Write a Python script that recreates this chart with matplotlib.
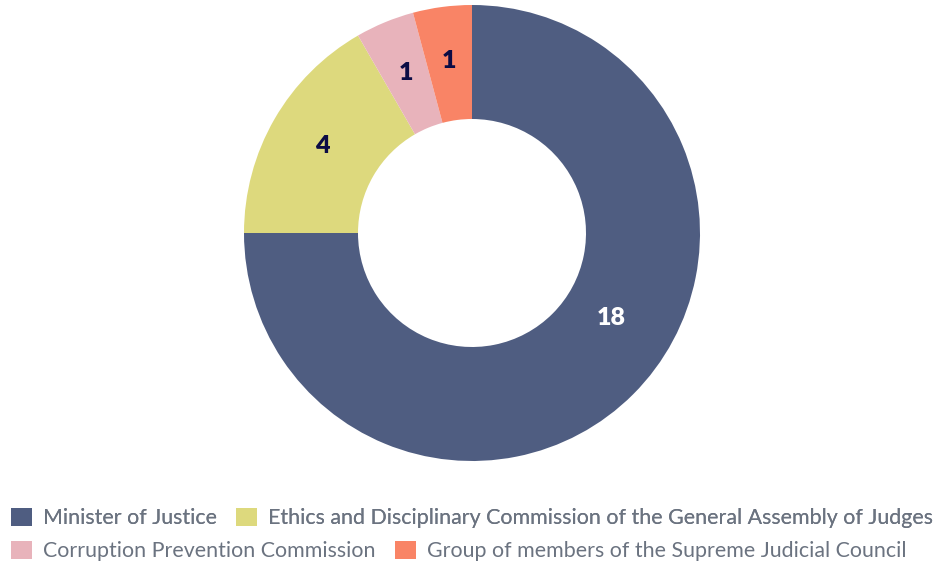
import matplotlib
matplotlib.use("Agg")
import matplotlib.pyplot as plt
from matplotlib.patches import Patch

categories = ["Minister of Justice",
              "Ethics and Disciplinary Commission of the General Assembly of Judges",
              "Corruption Prevention Commission",
              "Group of members of the Supreme Judicial Council"]
values = [18, 4, 1, 1]
colors = ["#4F5D81", "#DDD97D", "#E8B3BB", "#F98466"]
label_colors = ["white", "#0B0C45", "#0B0C45", "#0B0C45"]

plt.rcParams['font.family'] = ['Lato', 'DejaVu Sans']

fig = plt.figure(figsize=(9.4, 5.63), dpi=100)
ax = fig.add_axes([244/940, 102/563, 456/940, 456/563])
wedges, texts, autotexts = ax.pie(values, colors=colors, startangle=90, counterclock=False,
                                  radius=1, wedgeprops=dict(width=0.5, linewidth=0),
                                  autopct=lambda p: "", pctdistance=0.76)
for t, v, c in zip(autotexts, values, label_colors):
    t.set_text(str(v))
    t.set_color(c)
    t.set_fontsize(18)
    t.set_fontweight('heavy')
autotexts[0].set_position((0.61, -0.373))
ax.set_xlim(-1, 1)
ax.set_ylim(-1, 1)
ax.axis('off')

handles = [Patch(facecolor=c, edgecolor='none') for c in colors]
common = dict(frameon=False, fontsize=15.4, labelcolor="#6B7380", handlelength=0.98,
              handleheight=0.98, handletextpad=0.52, columnspacing=0.9, borderpad=0,
              borderaxespad=0, loc='center left')
leg1 = fig.legend(handles[:2], categories[:2], ncol=2,
                  bbox_to_anchor=(11/940, 1 - 518/563), **common)
fig.add_artist(leg1)
leg2 = fig.legend(handles[2:], categories[2:], ncol=2,
                  bbox_to_anchor=(11/940, 1 - 551/563), **common)

fig.savefig("out.png", dpi=100)
